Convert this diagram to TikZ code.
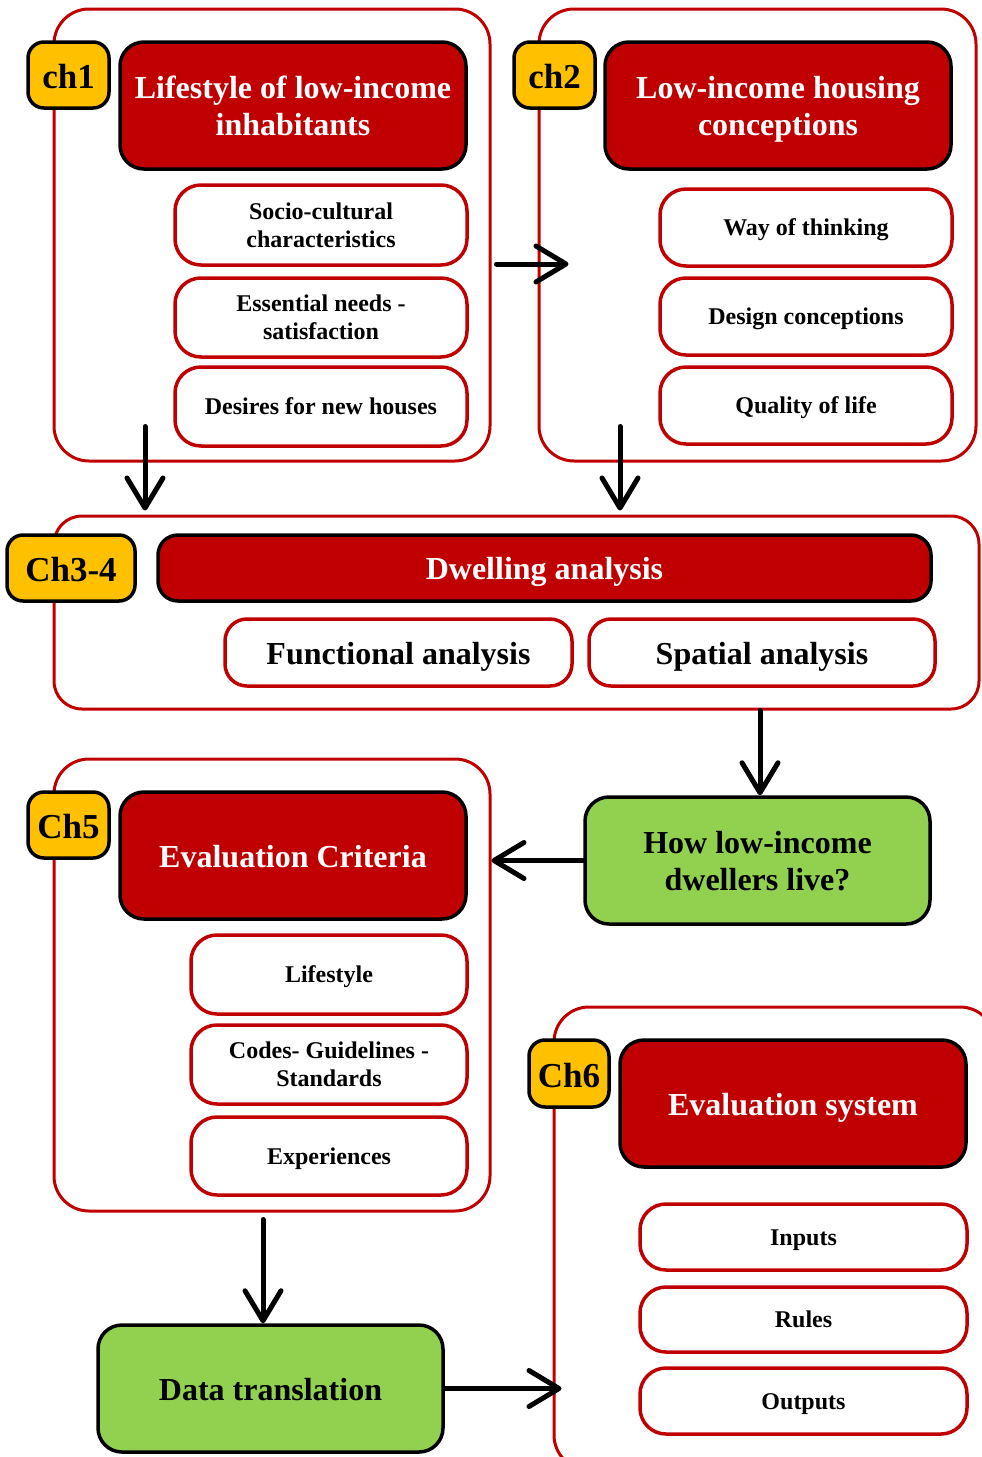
\documentclass[tikz,border=0pt]{standalone}
\usepackage{fontspec}
\setmainfont{Liberation Serif}
\usetikzlibrary{arrows.meta,calc}
\definecolor{myred}{HTML}{C00000}
\definecolor{myyellow}{HTML}{FFC000}
\definecolor{mygreen}{HTML}{92D050}
\begin{document}
\begin{tikzpicture}[x=1pt,y=-1pt,
 container/.style={draw=myred, line width=3pt, rounded corners=35pt, fill=white, inner sep=0pt},
 badge/.style={draw=black, fill=myyellow, line width=3.5pt, rounded corners=16pt, font=\fontsize{35}{40}\selectfont\bfseries, inner sep=0pt, text height=30pt, text depth=3pt},
 titlebox/.style={draw=black, fill=myred, line width=3.5pt, rounded corners=24pt, text=white, font=\fontsize{32}{37}\selectfont\bfseries, align=center, inner sep=0pt},
 subbox/.style={draw=myred, fill=white, line width=3.5pt, rounded corners=26pt, font=\fontsize{24}{28}\selectfont\bfseries, align=center, inner sep=0pt},
 bigsub/.style={subbox, rounded corners=22pt, font=\fontsize{32}{37}\selectfont\bfseries},
 greenbox/.style={draw=black, fill=mygreen, line width=3.5pt, rounded corners=24pt, font=\fontsize{32}{37}\selectfont\bfseries, align=center, inner sep=0pt},
 onesmall/.style={text height=20pt, text depth=3.6pt},
 onebig/.style={text height=30pt, text depth=7pt},
 twobig/.style={text depth=-4pt},
 twosmall/.style={text depth=-2pt},
 arr/.style={line width=5pt, line cap=round, -{Straight Barb[length=30pt,width=36pt,line cap=round,line join=round]}},
]
\useasboundingbox (0,0) rectangle (982,1457);
\clip (0,0) rectangle (982,1457);

% ch1
\node[container, minimum width=436, minimum height=452] (c1) at (272,235) {};
\node[badge, minimum width=81, minimum height=66] (b1) at (68.5,75) {ch1};
\node[titlebox, twobig, minimum width=346, minimum height=127] (t1) at (293,105.5) {Lifestyle of low-income\\inhabitants};
\node[subbox, minimum width=292, minimum height=80] (s11) at (321,225) {Socio-cultural\\characteristics};
\node[subbox, twosmall, minimum width=292, minimum height=79] (s12) at (321,317.5) {Essential needs -\\satisfaction};
\node[subbox, onesmall, minimum width=292, minimum height=79] (s13) at (321,406.5) {Desires for new houses};

% ch2
\node[container, minimum width=437, minimum height=452] (c2) at (757.5,235) {};
\node[badge, minimum width=81, minimum height=66] (b2) at (554.5,75) {ch2};
\node[titlebox, twobig, minimum width=346, minimum height=127] (t2) at (778,105.5) {Low-income housing\\conceptions};
\node[subbox, onesmall, minimum width=292, minimum height=77] (s21) at (806,227.5) {Way of thinking};
\node[subbox, onesmall, minimum width=292, minimum height=77] (s22) at (806,316.5) {Design conceptions};
\node[subbox, onesmall, minimum width=292, minimum height=77] (s23) at (806,405.5) {Quality of life};

% ch3-4
\node[container, rounded corners=28pt, minimum width=925, minimum height=193] (c34) at (516.5,612.5) {};
\node[badge, minimum width=128, minimum height=66] (b34) at (71,568) {Ch3-4};
\node[titlebox, onebig, rounded corners=20pt, minimum width=773, minimum height=66] (t34) at (544.5,568) {Dwelling analysis};
\node[bigsub, onebig, minimum width=347, minimum height=67] (s31) at (398.5,652.5) {Functional analysis};
\node[bigsub, onebig, minimum width=346, minimum height=67] (s32) at (762,652.5) {Spatial analysis};

% green 1
\node[greenbox, twobig, minimum width=345, minimum height=127] (g1) at (757.5,860.5) {How low-income\\dwellers live?};

% ch5
\node[container, minimum width=436, minimum height=452] (c5) at (272,985) {};
\node[badge, minimum width=81, minimum height=66] (b5) at (68.5,825) {Ch5};
\node[titlebox, onebig, minimum width=346, minimum height=127] (t5) at (293,855.5) {Evaluation Criteria};
\node[subbox, onesmall, minimum width=276, minimum height=79] (s51) at (329,974.5) {Lifestyle};
\node[subbox, twosmall, minimum width=276, minimum height=79] (s52) at (329,1064.5) {Codes- Guidelines -\\Standards};
\node[subbox, onesmall, minimum width=276, minimum height=78] (s53) at (329,1156) {Experiences};

% green 2
\node[greenbox, onebig, minimum width=345, minimum height=127] (g2) at (270.5,1388.5) {Data translation};

% ch6
\node[container, minimum width=441, minimum height=463] (c6) at (774.5,1238.5) {};
\node[badge, minimum width=80, minimum height=67] (b6) at (569,1073.5) {Ch6};
\node[titlebox, onebig, minimum width=346, minimum height=127] (t6) at (793,1103.5) {Evaluation system};
\node[subbox, onesmall, minimum width=327, minimum height=66] (s61) at (803.5,1237) {Inputs};
\node[subbox, onesmall, minimum width=327, minimum height=65] (s62) at (803.5,1319.5) {Rules};
\node[subbox, onesmall, minimum width=327, minimum height=66] (s63) at (803.5,1401) {Outputs};

% arrows
\draw[arr] ([xshift=5pt,yshift=-29pt]c1.east) -- ([xshift=31pt,yshift=-29pt]c2.west);
\draw[arr] ([xshift=-127pt,yshift=36pt]c1.south) -- ([xshift=-371.5pt,yshift=4pt]c34.north);
\draw[arr] ([xshift=-137.5pt,yshift=36pt]c2.south) -- ([xshift=103.5pt,yshift=4pt]c34.north);
\draw[arr] ([xshift=2.5pt]g1.north |- c34.south) -- ([xshift=2.5pt]g1.north);
\draw[arr] (g1.west) -- (g1.west -| c5.east);
\draw[arr] ([xshift=-7.5pt,yshift=-7pt]g2.north |- c5.south) -- ([xshift=-7.5pt]g2.north);
\draw[arr] (g2.east) -- ([xshift=9pt]g2.east -| c6.west);
\end{tikzpicture}
\end{document}
